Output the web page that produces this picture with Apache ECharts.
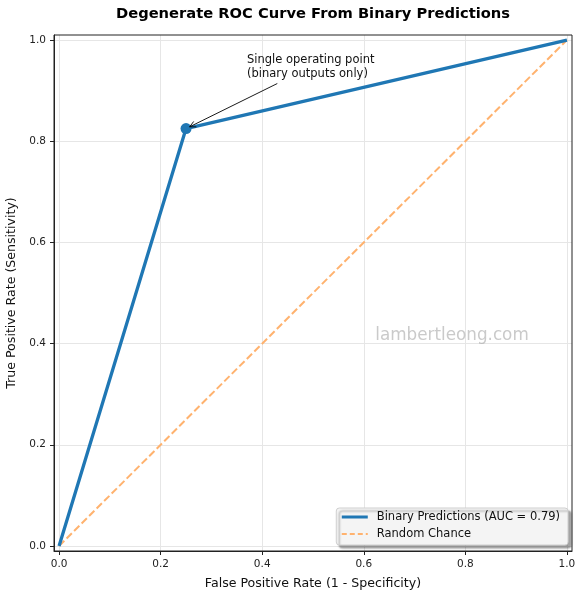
<!DOCTYPE html>
<html>
<head>
<meta charset="utf-8">
<script src="https://cdn.jsdelivr.net/npm/echarts@6/dist/echarts.min.js"></script>
<style>
  html, body { margin: 0; padding: 0; background: #fff; }
  #chart { width: 582px; height: 600px; }
</style>
</head>
<body>
<div id="chart"></div>
<script>
// ---- Data ----
const FPR = [0, 0.25, 1];
const TPR = [0, 0.825, 1];
const CHANCE_X = [0, 1];
const CHANCE_Y = [0, 1];
const OPERATING_POINT = [0.25, 0.825];
const X_TICKS = [0, 0.2, 0.4, 0.6, 0.8, 1.0];
const Y_TICKS = [0, 0.2, 0.4, 0.6, 0.8, 1.0];
const AUC_VALUE = 0.79;
const ANNOT_TEXT = 'Single operating point\n(binary outputs only)';
const ANNOT_XY = [0.37, 0.92];
const SERIES_NAMES = ['Binary Predictions (AUC = ' + AUC_VALUE.toFixed(2) + ')', 'Random Chance'];

const FONT = 'DejaVu Sans';
const BLUE = '#1f77b4';
const ORANGE = '#ffb26e';
const chart = echarts.init(document.getElementById('chart'), null, { renderer: 'canvas' });

function axisCommon(ticks) {
  return {
    type: 'value',
    min: -0.01,
    max: 1.01,
    axisLine: { show: true, onZero: false, lineStyle: { color: '#222', width: 1 } },
    axisTick: { show: true, length: 4, customValues: ticks, lineStyle: { color: '#222', width: 1 } },
    axisLabel: {
      customValues: ticks,
      formatter: v => v.toFixed(1),
      fontFamily: FONT, fontSize: 10.5, color: '#222'
    },
    splitLine: { show: true, lineStyle: { color: '#e6e6e6', width: 1 } },
    nameLocation: 'middle',
    nameTextStyle: { fontFamily: FONT, fontSize: 12.6, color: '#111' }
  };
}

const xAxis = Object.assign(axisCommon(X_TICKS), {
  name: 'False Positive Rate (1 - Specificity)',
  nameGap: 26
});
xAxis.axisLabel.margin = 8;
const yAxis = Object.assign(axisCommon(Y_TICKS), {
  name: 'True Positive Rate (Sensitivity)',
  nameGap: 31
});
yAxis.axisLabel.margin = 8;

chart.setOption({
  animation: false,
  backgroundColor: '#fff',
  title: {
    text: 'Degenerate ROC Curve From Binary Predictions',
    left: 308, top: 2, textAlign: 'center',
    textStyle: { fontFamily: FONT, fontSize: 14.7, fontWeight: 'bold', color: '#000' }
  },
  grid: { left: 54, right: 10, top: 35, bottom: 49, outerBoundsMode: 'none', containLabel: false },
  xAxis: xAxis,
  yAxis: yAxis,
  legend: {
    data: [
      { name: SERIES_NAMES[0], lineStyle: { width: 3, color: BLUE } },
      { name: SERIES_NAMES[1], lineStyle: { width: 2, color: ORANGE, type: [5, 3] } }
    ],
    orient: 'vertical',
    right: 14, bottom: 55,
    itemWidth: 26, itemHeight: 12, itemGap: 5,
    padding: [3, 8, 5, 4],
    itemStyle: { opacity: 0 },
    textStyle: { fontFamily: FONT, fontSize: 11.5, color: '#111', padding: [0, 0, 0, 4] },
    backgroundColor: '#f4f4f4',
    borderColor: '#cfcfcf', borderWidth: 1, borderRadius: 3,
    shadowColor: 'rgba(0,0,0,0.35)', shadowBlur: 2, shadowOffsetX: 3, shadowOffsetY: 3
  },
  series: [
    {
      name: SERIES_NAMES[1],
      type: 'line',
      data: CHANCE_X.map((x, i) => [x, CHANCE_Y[i]]),
      symbol: 'none',
      clip: false,
      z: 2,
      lineStyle: { color: ORANGE, width: 2, type: [7.4, 3.2] },
      itemStyle: { color: ORANGE }
    },
    {
      name: SERIES_NAMES[0],
      type: 'line',
      data: FPR.map((x, i) => [x, TPR[i]]),
      symbol: 'none',
      clip: false,
      z: 3,
      lineStyle: { color: BLUE, width: 3.3 },
      itemStyle: { color: BLUE }
    },
    {
      name: 'point',
      type: 'scatter',
      data: [OPERATING_POINT],
      symbol: 'circle',
      symbolSize: 11,
      z: 4,
      itemStyle: { color: BLUE, opacity: 1 }
    }
  ]
});

// ---- Annotation (positions derived from the axes) ----
const p = chart.convertToPixel({ gridIndex: 0 }, OPERATING_POINT);
const t = chart.convertToPixel({ gridIndex: 0 }, ANNOT_XY);
const LINE_H = 13.5;
const ANNOT_FONT = '11.5px ' + FONT;
const ctx = document.createElement('canvas').getContext('2d');
ctx.font = ANNOT_FONT;
const textW = Math.max(...ANNOT_TEXT.split('\n').map(s => ctx.measureText(s).width));
const textH = LINE_H * 2;
const c = [t[0] + textW / 2, t[1] - textH / 2];
const sA = (t[1] + 3 - c[1]) / (p[1] - c[1]);
const tail = [c[0] + sA * (p[0] - c[0]), c[1] + sA * (p[1] - c[1])];
const dx = p[0] - tail[0], dy = p[1] - tail[1];
const len = Math.hypot(dx, dy);
const ux = dx / len, uy = dy / len;
const head = [p[0] - ux * 4, p[1] - uy * 4];
const hl = 6, hw = 3;
const b1 = [head[0] - ux * hl - uy * hw, head[1] - uy * hl + ux * hw];
const b2 = [head[0] - ux * hl + uy * hw, head[1] - uy * hl - ux * hw];

const plotLeft = 54, plotTop = 35, plotW = 518, plotH = 516;

chart.setOption({
  graphic: [
    {
      type: 'rect', silent: true, z: 50,
      shape: { x: plotLeft, y: plotTop, width: plotW, height: plotH },
      style: { fill: 'none', stroke: '#222', lineWidth: 1 }
    },
    {
      type: 'text', z: 60,
      style: {
        text: ANNOT_TEXT, x: t[0], y: t[1] - textH,
        font: ANNOT_FONT, fill: '#111', lineHeight: LINE_H,
        verticalAlign: 'top', align: 'left'
      }
    },
    {
      type: 'polyline', z: 60,
      shape: { points: [tail, head] },
      style: { stroke: '#000', lineWidth: 0.9, fill: 'none' }
    },
    {
      type: 'polyline', z: 60,
      shape: { points: [b1, head, b2] },
      style: { stroke: '#000', lineWidth: 0.9, fill: 'none' }
    },
    {
      type: 'text', z: 1,
      style: {
        text: 'lambertleong.com', x: 452, y: 336,
        font: '16.8px ' + FONT, fill: 'rgba(150,150,150,0.5)',
        align: 'center', verticalAlign: 'middle'
      }
    }
  ]
});
</script>
</body>
</html>
